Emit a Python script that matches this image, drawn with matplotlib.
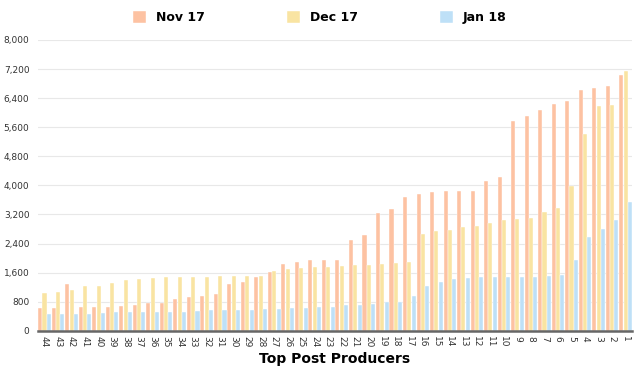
import numpy as np
from matplotlib import pyplot as plt
from matplotlib.ticker import FuncFormatter

producers = [str(n) for n in range(44, 0, -1)]

nov17 = [616, 616, 1288, 653, 653, 662, 672, 699, 764, 764, 874, 920, 948,
         1021, 1288, 1343, 1472, 1610, 1840, 1886, 1950, 1960, 1960, 2493, 2640,
         3240, 3350, 3690, 3768, 3805, 3832, 3851, 3851, 4108, 4228, 5764, 5912,
         6068, 6243, 6307, 6611, 6666, 6740, 7034]
dec17 = [1030, 1058, 1113, 1224, 1233, 1316, 1408, 1417, 1463, 1481, 1481, 1481, 1481,
         1500, 1500, 1500, 1500, 1638, 1711, 1720, 1748, 1748, 1776, 1822, 1822,
         1831, 1868, 1905, 2650, 2732, 2760, 2860, 2890, 2975, 3040, 3065, 3100,
         3270, 3365, 3980, 5400, 6170, 6220, 7150]
jan18 = [450, 460, 469, 460, 488, 506, 506, 506, 515, 515, 515, 543, 561,
         561, 561, 570, 598, 598, 616, 626, 644, 653, 708, 708, 727,
         791, 800, 970, 1233, 1352, 1426, 1454, 1481, 1481, 1490, 1490, 1490,
         1500, 1527, 1941, 2585, 2800, 3040, 3556]

series = [("Nov 17", nov17, "#FDC2A2"),
          ("Dec 17", dec17, "#F9E4A2"),
          ("Jan 18", jan18, "#BEE0F7")]

fig = plt.figure(figsize=(6.4, 3.73), dpi=100)
ax = fig.add_axes([0.059, 0.113, 0.929, 0.78])

x = np.arange(len(producers))
w = 0.3
for i, (name, vals, col) in enumerate(series):
    ax.bar(x + (i - 1) * 0.32, vals, width=w, color=col, label=name,
           edgecolor='white', linewidth=0.3, zorder=2)

ax.set_xlim(-0.5, len(producers) - 0.5)
ax.set_ylim(0, 8000)
ax.set_yticks(np.arange(0, 8001, 800))
ax.yaxis.set_major_formatter(FuncFormatter(lambda v, p: f"{int(v):,}"))
ax.set_xticks(x)
ax.set_xticklabels(producers, rotation=270, fontsize=6.5, color='#333333')
ax.tick_params(axis='y', labelsize=6.5, colors='#333333', length=0, pad=6)
ax.tick_params(axis='x', length=0, pad=4)
ax.grid(axis='y', color='#e8e8e8', linewidth=0.8, zorder=0)
for s in ['left', 'right', 'top']:
    ax.spines[s].set_visible(False)
ax.spines['bottom'].set_color('#666666')
ax.spines['bottom'].set_linewidth(1.8)
ax.spines['bottom'].set_zorder(3)

ax.set_xlabel("Top Post Producers", fontsize=10, fontweight='bold', labelpad=3)

leg = fig.legend(loc='upper center', bbox_to_anchor=(0.5, 1.0), ncol=3,
                 frameon=False, handlelength=1.0, handleheight=1.0,
                 columnspacing=6.6, handletextpad=0.8,
                 prop={'weight': 'bold', 'size': 9})

fig.savefig("out.png", dpi=100, facecolor='white')
